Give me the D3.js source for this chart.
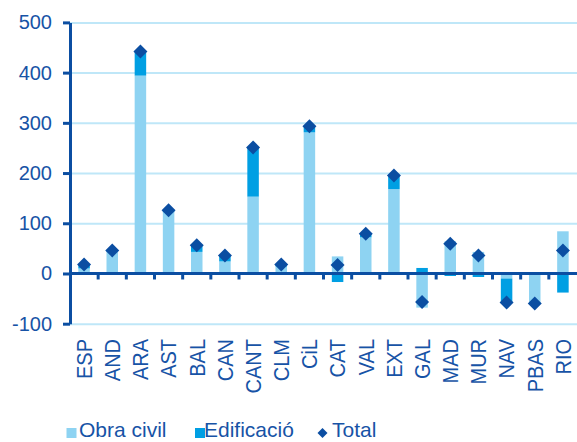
<!DOCTYPE html>
<html>
<head>
<meta charset="utf-8">
<script src="https://cdn.jsdelivr.net/npm/d3@7"></script>
<style>
  html, body { margin: 0; padding: 0; background: #fff; }
  svg text { font-family: Arial, "Liberation Sans", sans-serif; }
</style>
</head>
<body>
<svg id="chart" width="577" height="442"></svg>
<script>
const categories = ["ESP","AND","ARA","AST","BAL","CAN","CANT","CLM","CiL","CAT","VAL","EXT","GAL","MAD","MUR","NAV","PBAS","RIO"];
const obraCivil  = [10, 44, 394, 122, 43, 24, 153, 14, 281, 34, 72, 168, -68, 64, 43, -10, -58, 84];
const edificacio = [8, 2, 48, 4, 13, 12, 98, 4, 12, -17, 7, 27, 11, -5, -7, -48, -2, -38];
const total      = [18, 46, 442, 126, 56, 36, 251, 18, 293, 17, 79, 195, -57, 59, 36, -58, -60, 46];
const yTicks = [-100, 0, 100, 200, 300, 400, 500];
const legendLabels = ["Obra civil", "Edificació", "Total"];

const C_OBRA = "#8ed3f2", C_EDIF = "#009fe3", C_TOTAL = "#0b4ea2", C_AXIS = "#0b4ea2", C_TEXT = "#1753a6", C_GRID = "#bfe7f8";

const svg = d3.select("#chart");
const mLeft = 70, mRight = 577, mTop = 22.4, mBottom = 323.7;

const x = d3.scaleBand().domain(categories).range([mLeft, mRight]).padding(0);
const y = d3.scaleLinear().domain([-100, 500]).range([mBottom, mTop]);
const barW = 11.5;

const rows = categories.map((c, i) => ({cat: c, obra: obraCivil[i], edif: edificacio[i], total: total[i]}));
const stack = d3.stack().keys(["obra", "edif"]).offset(d3.stackOffsetDiverging);
const series = stack(rows);

// gridlines
svg.append("g")
  .attr("transform", `translate(${mLeft},0)`)
  .call(d3.axisLeft(y).tickValues(yTicks.filter(v => v !== 0)).tickSize(-(mRight - mLeft)).tickFormat(""))
  .call(g => g.select(".domain").remove())
  .call(g => g.selectAll("line").attr("stroke", C_GRID).attr("stroke-width", 2));

// bars
const colors = {obra: C_OBRA, edif: C_EDIF};
svg.append("g").selectAll("g").data(series).join("g")
  .attr("fill", d => colors[d.key])
  .selectAll("rect").data(d => d).join("rect")
  .attr("x", d => x(d.data.cat) + (x.bandwidth() - barW) / 2)
  .attr("width", barW)
  .attr("y", d => y(Math.max(d[0], d[1])))
  .attr("height", d => Math.abs(y(d[0]) - y(d[1])));

// y axis
svg.append("g")
  .attr("transform", `translate(${mLeft},0)`)
  .call(d3.axisLeft(y).tickValues(yTicks).tickSize(7).tickPadding(11).tickSizeOuter(0).tickFormat(v => String(v)))
  .call(g => g.select(".domain").attr("stroke", C_AXIS).attr("stroke-width", 3))
  .call(g => g.selectAll(".tick line").attr("stroke", C_AXIS).attr("stroke-width", 3))
  .call(g => g.selectAll(".tick text").attr("fill", C_TEXT).attr("font-size", 20).attr("font-family", "Arial, 'Liberation Sans', sans-serif"));

// zero line
svg.append("line")
  .attr("x1", mLeft).attr("x2", mRight)
  .attr("y1", y(0)).attr("y2", y(0))
  .attr("stroke", C_AXIS).attr("stroke-width", 3);

// x ticks at band boundaries
svg.append("g").selectAll("line").data(categories.slice(1)).join("line")
  .attr("x1", d => x(d)).attr("x2", d => x(d))
  .attr("y1", y(0)).attr("y2", y(0) + 6)
  .attr("stroke", C_AXIS).attr("stroke-width", 3);

// x labels
svg.append("g").selectAll("text").data(categories).join("text")
  .attr("transform", d => `translate(${x(d) + x.bandwidth() / 2},339) rotate(-90) scale(1,1.08)`)
  .attr("text-anchor", "end")
  .attr("dy", "0.36em")
  .attr("fill", C_TEXT)
  .attr("font-size", 20)
  .text(d => d);

// total diamonds
const diamond = (cx, cy, r) => `M${cx},${cy - r}L${cx + r},${cy}L${cx},${cy + r}L${cx - r},${cy}Z`;
svg.append("g").selectAll("path").data(rows).join("path")
  .attr("d", d => diamond(x(d.cat) + x.bandwidth() / 2, y(d.total), 7))
  .attr("fill", C_TOTAL);

// legend
const lg = svg.append("g");
const legendText = (tx, label) => lg.append("text")
  .attr("transform", `translate(${tx},437) scale(1.05,1)`)
  .attr("font-size", 20).attr("fill", C_TEXT).text(label);
lg.append("rect").attr("x", 66.5).attr("y", 428).attr("width", 10).attr("height", 10).attr("fill", C_OBRA);
legendText(79, legendLabels[0]);
lg.append("rect").attr("x", 195).attr("y", 428).attr("width", 10).attr("height", 10).attr("fill", C_EDIF);
legendText(204, legendLabels[1]);
lg.append("path").attr("d", diamond(322.5, 433, 5)).attr("fill", C_TOTAL);
legendText(332, legendLabels[2]);
</script>
</body>
</html>
